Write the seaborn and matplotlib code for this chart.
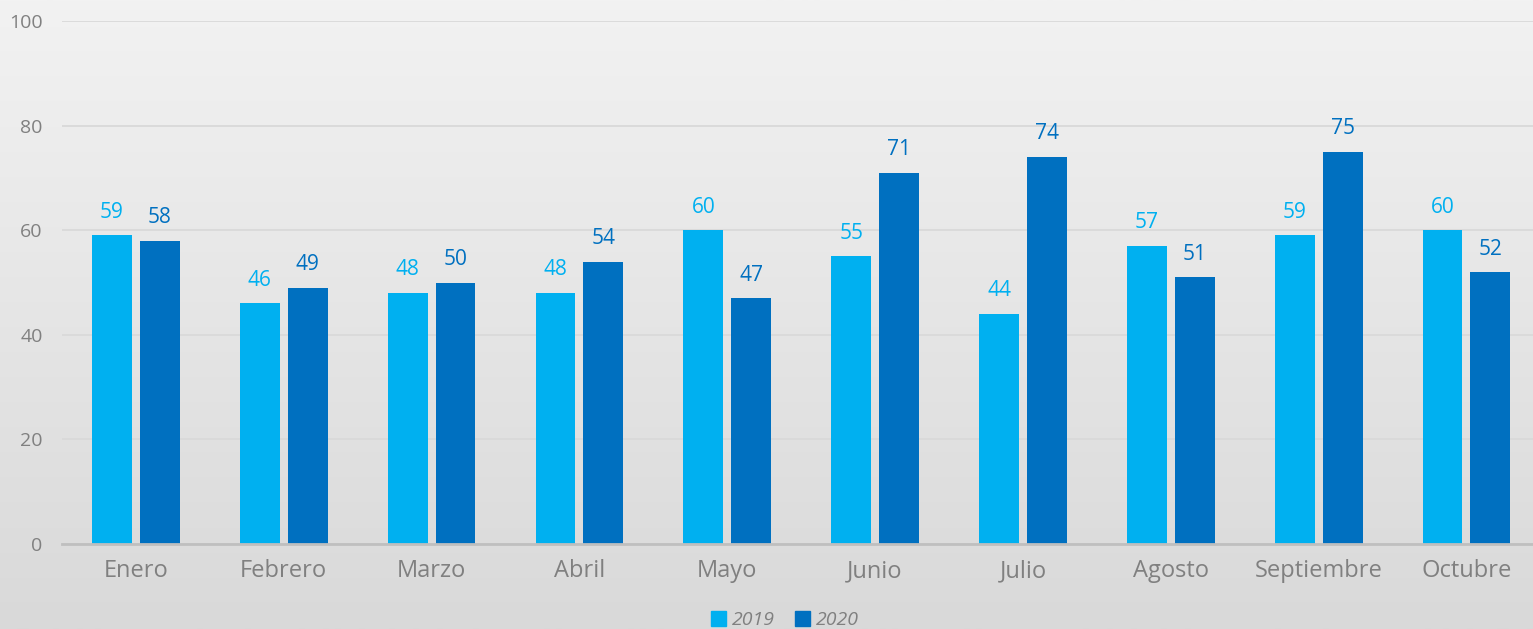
import numpy as np
import pandas as pd
import matplotlib
matplotlib.use("Agg")
import matplotlib.pyplot as plt
import seaborn as sns

# data
meses = ["Enero", "Febrero", "Marzo", "Abril", "Mayo", "Junio",
         "Julio", "Agosto", "Septiembre", "Octubre"]
valores_2019 = [59, 46, 48, 48, 60, 55, 44, 57, 59, 60]
valores_2020 = [58, 49, 50, 54, 47, 71, 74, 51, 75, 52]
anios = ["2019", "2020"]
colores = ["#00b0f0", "#0070c0"]

df = pd.DataFrame({
    "mes": meses * 2,
    "valor": valores_2019 + valores_2020,
    "anio": [anios[0]] * len(meses) + [anios[1]] * len(meses),
})

sns.set_style("white")
plt.rcParams["font.family"] = ["Open Sans", "DejaVu Sans"]

fig = plt.figure(figsize=(15.33, 6.29), dpi=100)

# gradient background
bg = fig.add_axes([0, 0, 1, 1], zorder=-10)
grad = np.linspace(0, 1, 256).reshape(-1, 1)
top = np.array([0xf2, 0xf2, 0xf2]) / 255
bottom = np.array([0xd9, 0xd9, 0xd9]) / 255
img = top + (bottom - top) * grad[:, :, None]
bg.imshow(img, aspect="auto", extent=[0, 1, 0, 1], origin="upper")
bg.set_axis_off()

ax = fig.add_axes([62 / 1533, 1 - 544 / 629, 1 - 62 / 1533, (544 - 21) / 629])
ax.set_facecolor("none")

sns.barplot(data=df, x="mes", y="valor", hue="anio", palette=colores,
            width=0.648, gap=0.167, ax=ax, legend=True, saturation=1,
            linewidth=0, edgecolor="none")

for cont, col in zip(ax.containers, colores):
    ax.bar_label(cont, padding=9, color=col, fontsize=15)

ax.set_ylim(0, 100)
ax.set_xlim(-0.5, 9.45)
ax.set_yticks([0, 20, 40, 60, 80, 100])
ax.yaxis.grid(True, color="#d9d9d9", linewidth=1.3)
ax.set_axisbelow(True)
for s in ["top", "right", "left"]:
    ax.spines[s].set_visible(False)
ax.spines["bottom"].set_color("#bfbfbf")
ax.spines["bottom"].set_linewidth(2)
ax.tick_params(axis="y", length=0, labelsize=14, labelcolor="#808080", pad=14)
ax.tick_params(axis="x", length=6, width=1.5, color="#bfbfbf",
               labelsize=17, labelcolor="#808080", pad=5)
ax.set_xlabel("")
ax.set_ylabel("")

# legend at bottom, kept inside the figure
ax.legend_.remove()
handles = [plt.Rectangle((0, 0), 1, 1, color=c) for c in colores]
leg = fig.legend(handles, anios, loc="lower center", bbox_to_anchor=(785 / 1533, 0.0),
                 ncol=2, frameon=False, handlelength=0.8, handleheight=0.8,
                 handletextpad=0.3, columnspacing=1.0, borderpad=0.0,
                 borderaxespad=0.0, prop={"style": "italic", "size": 14})
for t in leg.get_texts():
    t.set_color("#808080")

fig.savefig("out.png", dpi=100)
